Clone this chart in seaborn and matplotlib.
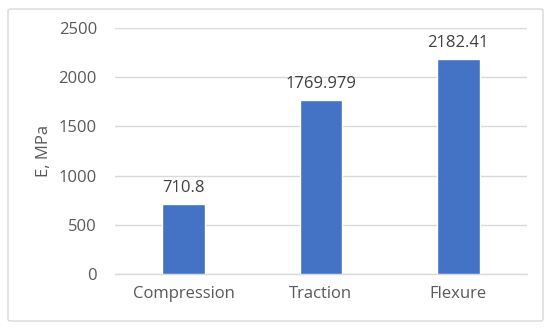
import matplotlib
matplotlib.use("Agg")
import matplotlib.pyplot as plt
import seaborn as sns
import pandas as pd
from matplotlib.patches import FancyBboxPatch

categories = ["Compression", "Traction", "Flexure"]
values = [710.8, 1769.979, 2182.41]
labels = ["710.8", "1769.979", "2182.41"]
yticks = [0, 500, 1000, 1500, 2000, 2500]

sns.set_theme(style="white")
plt.rcParams['font.family'] = ['Open Sans', 'DejaVu Sans']

df = pd.DataFrame({"cat": categories, "val": values})

fig = plt.figure(figsize=(5.5, 3.3), dpi=100)
ax = fig.add_axes([0.209, 0.170, 0.749, 0.745])

border = FancyBboxPatch((8/550, 1 - 321/330), (543-8)/550, (321-9)/330,
                        boxstyle="round,pad=0,rounding_size=0.005",
                        transform=fig.transFigure, fill=False,
                        edgecolor="#d9d9d9", linewidth=1.0)
fig.patches.append(border)

sns.barplot(data=df, x="cat", y="val", color="#4472C4", width=0.31,
            saturation=1, ax=ax, zorder=3)

ax.set_ylim(0, 2500)
ax.set_xlim(-0.5, 2.5)
ax.set_yticks(yticks)
ax.set_yticklabels([str(t) for t in yticks])
ax.yaxis.grid(True, color="#d9d9d9", linewidth=1.0, zorder=0)
ax.set_axisbelow(True)
for s in ["top", "right", "left"]:
    ax.spines[s].set_visible(False)
ax.spines["bottom"].set_color("#d9d9d9")
ax.spines["bottom"].set_linewidth(1.0)
ax.tick_params(axis="both", length=0, labelsize=12, labelcolor="#595959")
ax.tick_params(axis="y", pad=13)
ax.tick_params(axis="x", pad=9)
ax.set_xlabel("")
ax.set_ylabel("E, MPa", fontsize=12, color="#595959", labelpad=5)

for i, (v, lab) in enumerate(zip(values, labels)):
    ax.annotate(lab, (i, v), xytext=(0, 6), textcoords="offset points",
                ha="center", va="bottom", fontsize=12, color="#404040")

fig.savefig("out.png", dpi=100)
